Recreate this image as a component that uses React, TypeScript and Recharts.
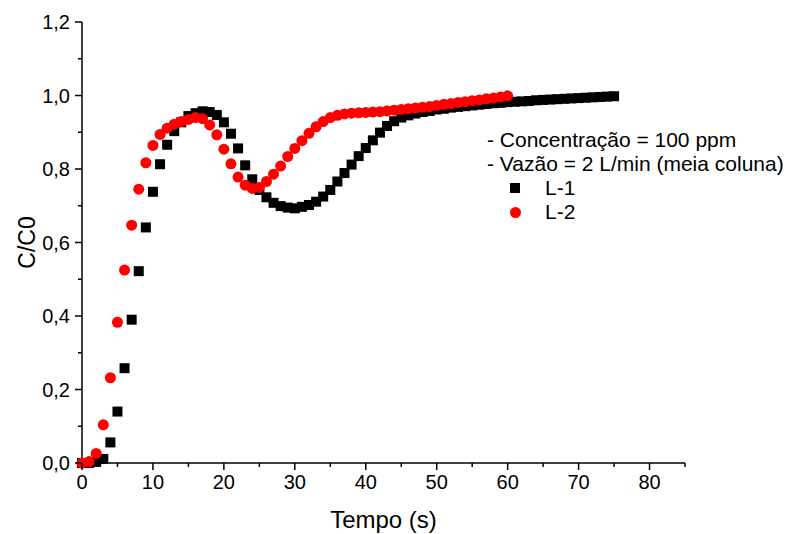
import React from 'react';
import { ScatterChart, Scatter, XAxis, YAxis } from 'recharts';

// tempo (s) de cada leitura
const tempoL1 = [
  0, 1, 2, 3, 4, 5, 6, 7, 8, 9, 10, 11, 12, 13, 14, 15, 16, 17, 18, 19, 20, 21, 22, 23, 24, 25,
  26, 27, 28, 29, 30, 31, 32, 33, 34, 35, 36, 37, 38, 39, 40, 41, 42, 43, 44, 45, 46, 47, 48, 49,
  50, 51, 52, 53, 54, 55, 56, 57, 58, 59, 60, 61, 62, 63, 64, 65, 66, 67, 68, 69, 70, 71, 72, 73,
  74, 75,
];
const valoresL1 = [
  0.0, 0.0, 0.003, 0.011, 0.056, 0.14, 0.258, 0.39, 0.522, 0.641, 0.738, 0.813, 0.866, 0.903,
  0.927, 0.944, 0.952, 0.957, 0.955, 0.947, 0.927, 0.896, 0.856, 0.81, 0.772, 0.743, 0.723, 0.708,
  0.699, 0.695, 0.693, 0.697, 0.702, 0.711, 0.725, 0.743, 0.766, 0.789, 0.812, 0.835, 0.857,
  0.878, 0.899, 0.917, 0.93, 0.94, 0.946, 0.951, 0.955, 0.958, 0.962, 0.964, 0.967, 0.969, 0.971,
  0.973, 0.975, 0.977, 0.979, 0.98, 0.982, 0.983, 0.984, 0.985, 0.987, 0.988, 0.989, 0.99, 0.991,
  0.992, 0.993, 0.994, 0.995, 0.996, 0.997, 0.998,
];

const tempoL2 = [
  0, 1, 2, 3, 4, 5, 6, 7, 8, 9, 10, 11, 12, 13, 14, 15, 16, 17, 18, 19, 20, 21, 22, 23, 24, 25,
  26, 27, 28, 29, 30, 31, 32, 33, 34, 35, 36, 37, 38, 39, 40, 41, 42, 43, 44, 45, 46, 47, 48, 49,
  50, 51, 52, 53, 54, 55, 56, 57, 58, 59, 60,
];
const valoresL2 = [
  0.0, 0.004, 0.026, 0.104, 0.232, 0.383, 0.525, 0.647, 0.745, 0.817, 0.864, 0.894, 0.911,
  0.922, 0.929, 0.935, 0.94, 0.937, 0.92, 0.893, 0.854, 0.814, 0.778, 0.756, 0.747, 0.75, 0.766,
  0.786, 0.808, 0.834, 0.856, 0.877, 0.897, 0.915, 0.929, 0.94, 0.946, 0.95, 0.952, 0.953, 0.954,
  0.955, 0.956, 0.958, 0.96, 0.962, 0.964, 0.966, 0.968, 0.97, 0.973, 0.976, 0.978, 0.981, 0.983,
  0.986, 0.988, 0.991, 0.993, 0.996, 0.999,
];

const xTicks = [0, 5, 10, 15, 20, 25, 30, 35, 40, 45, 50, 55, 60, 65, 70, 75, 80, 85];
const xLabels = [0, 10, 20, 30, 40, 50, 60, 70, 80];
const yTicks = [0, 0.1, 0.2, 0.3, 0.4, 0.5, 0.6, 0.7, 0.8, 0.9, 1.0, 1.1, 1.2];
const yLabels = ['0,0', '0,2', '0,4', '0,6', '0,8', '1,0', '1,2'];

const legendInfo = ['- Concentração = 100 ppm', '- Vazão = 2 L/min (meia coluna)'];

const dadosL1 = tempoL1.map((t, i) => ({ t, c: valoresL1[i] }));
const dadosL2 = tempoL2.map((t, i) => ({ t, c: valoresL2[i] }));

const fonte = '"Liberation Sans", Arial, sans-serif';

const Quadrado = (props: any) => (
  <rect x={props.cx - 5} y={props.cy - 5} width={10} height={10} fill="#000" />
);
const Bolinha = (props: any) => <circle cx={props.cx} cy={props.cy} r={5.5} fill="#ff0000" />;

const XTick = (props: any) => {
  const { x, y, payload } = props;
  const major = xLabels.includes(payload.value);
  return (
    <g>
      <line x1={x} y1={y} x2={x} y2={y + (major ? 7 : 4)} stroke="#000" strokeWidth={1.5} />
      {major && (
        <text x={x} y={y + 26} textAnchor="middle" fontSize={20} fill="#000" fontFamily={fonte}>
          {payload.value}
        </text>
      )}
    </g>
  );
};

const YTick = (props: any) => {
  const { x, y, payload } = props;
  const label = payload.value.toFixed(1).replace('.', ',');
  const major = yLabels.includes(label);
  return (
    <g>
      <line x1={x} y1={y} x2={x - (major ? 7 : 4)} y2={y} stroke="#000" strokeWidth={1.5} />
      {major && (
        <text x={x - 12} y={y + 7} textAnchor="end" fontSize={20} fill="#000" fontFamily={fonte}>
          {label}
        </text>
      )}
    </g>
  );
};

const Legenda = () => (
  <div
    style={{
      position: 'absolute',
      left: 479,
      top: 120,
      fontFamily: fonte,
      fontSize: 21,
      color: '#000',
      lineHeight: '24px',
      whiteSpace: 'nowrap',
    }}
  >
    {legendInfo.map((s) => (
      <div key={s}>{s}</div>
    ))}
    <div style={{ display: 'flex', alignItems: 'center' }}>
      <span style={{ width: 10, height: 10, background: '#000', marginLeft: 23, marginRight: 25 }} />
      L-1
    </div>
    <div style={{ display: 'flex', alignItems: 'center' }}>
      <span
        style={{ width: 11, height: 11, borderRadius: '50%', background: '#ff0000', marginLeft: 23, marginRight: 24 }}
      />
      L-2
    </div>
  </div>
);

export default function App() {
  return (
    <div style={{ position: 'relative', width: 780, height: 526 }}>
      <ScatterChart width={780} height={526} margin={{ top: 14, right: 103, bottom: 0, left: 0 }}>
        <XAxis
          type="number"
          dataKey="t"
          domain={[0, 85]}
          ticks={xTicks}
          interval={0}
          height={71}
          tickSize={0}
          tickMargin={0}
          tickLine={false}
          tick={<XTick />}
          axisLine={{ stroke: '#000', strokeWidth: 1.5 }}
          label={{ value: 'Tempo (s)', position: 'insideBottom', offset: 6, fontSize: 24, fill: '#000', fontFamily: fonte }}
        />
        <YAxis
          type="number"
          dataKey="c"
          domain={[0, 1.2]}
          ticks={yTicks}
          interval={0}
          width={74}
          tickSize={0}
          tickMargin={0}
          tickLine={false}
          tick={<YTick />}
          axisLine={{ stroke: '#000', strokeWidth: 1.5 }}
          label={(p: any) => (
            <text
              x={19}
              y={p.viewBox.y + p.viewBox.height / 2}
              transform={`rotate(-90, 19, ${p.viewBox.y + p.viewBox.height / 2})`}
              textAnchor="middle"
              dominantBaseline="central"
              fontSize={23}
              fill="#000"
              fontFamily={fonte}
            >
              C/C0
            </text>
          )}
        />
        <Scatter name="L-1" data={dadosL1} shape={<Quadrado />} isAnimationActive={false} />
        <Scatter name="L-2" data={dadosL2} shape={<Bolinha />} isAnimationActive={false} />
      </ScatterChart>
      <Legenda />
    </div>
  );
}
